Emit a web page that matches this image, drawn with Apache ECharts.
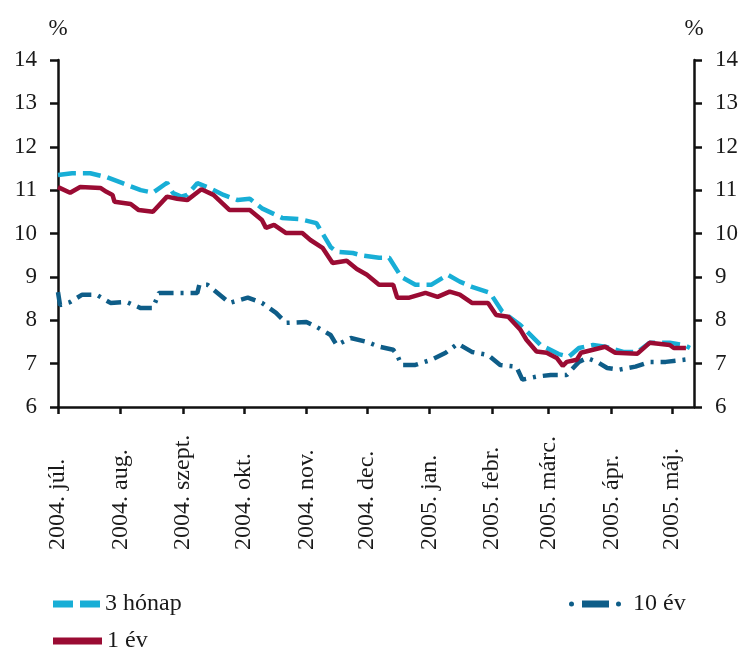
<!DOCTYPE html>
<html>
<head>
<meta charset="utf-8">
<script src="https://cdn.jsdelivr.net/npm/echarts@6/dist/echarts.min.js"></script>
<style>
html,body{margin:0;padding:0;background:#fff;}
#chart{width:742px;height:650px;}
</style>
</head>
<body>
<div id="chart"></div>
<script>
// ---- data ----
const startDate = '2004-07-01';
const endDate = '2005-05-12';
const tickLabels = ['2004. júl.', '2004. aug.', '2004. szept.', '2004. okt.', '2004. nov.', '2004. dec.',
  '2005. jan.', '2005. febr.', '2005. márc.', '2005. ápr.', '2005. máj.'];
const seriesNames = ['3 hónap', '1 év', '10 év'];

const threeMonth = [
  ['2004-07-01',11.35],['2004-07-08',11.39],['2004-07-17',11.39],['2004-07-25',11.30],['2004-08-02',11.16],
  ['2004-08-11',11.00],['2004-08-17',10.94],['2004-08-24',11.17],['2004-08-27',10.93],['2004-08-31',10.85],
  ['2004-09-03',10.89],['2004-09-08',11.16],['2004-09-14',11.05],['2004-09-21',10.89],['2004-09-28',10.77],
  ['2004-10-04',10.80],['2004-10-10',10.58],['2004-10-20',10.36],['2004-10-29',10.33],['2004-11-06',10.24],
  ['2004-11-13',9.69],['2004-11-16',9.58],['2004-11-24',9.55],['2004-11-28',9.50],['2004-12-07',9.44],
  ['2004-12-12',9.44],['2004-12-18',9.00],['2004-12-25',8.82],['2005-01-02',8.82],['2005-01-10',9.05],
  ['2005-01-16',8.89],['2005-01-22',8.77],['2005-01-31',8.63],['2005-02-06',8.20],['2005-02-15',7.89],
  ['2005-02-25',7.43],['2005-03-06',7.22],['2005-03-11',7.16],['2005-03-16',7.36],['2005-03-23',7.43],
  ['2005-03-29',7.39],['2005-04-07',7.27],['2005-04-14',7.27],['2005-04-20',7.48],['2005-04-30',7.48],
  ['2005-05-07',7.43],['2005-05-10',7.36]
];

const oneYear = [
  ['2004-07-01',11.07],['2004-07-07',10.94],['2004-07-12',11.07],['2004-07-22',11.05],['2004-07-25',10.96],
  ['2004-07-28',10.89],['2004-07-29',10.73],['2004-08-06',10.68],['2004-08-10',10.54],['2004-08-17',10.50],
  ['2004-08-24',10.85],['2004-08-29',10.80],['2004-09-03',10.77],['2004-09-10',11.02],['2004-09-16',10.89],
  ['2004-09-24',10.54],['2004-10-04',10.54],['2004-10-10',10.31],['2004-10-12',10.13],['2004-10-16',10.20],
  ['2004-10-22',10.01],['2004-10-30',10.01],['2004-11-03',9.85],['2004-11-09',9.67],['2004-11-14',9.32],
  ['2004-11-21',9.37],['2004-11-26',9.18],['2004-12-01',9.05],['2004-12-07',8.82],['2004-12-14',8.82],
  ['2004-12-16',8.52],['2004-12-22',8.52],['2004-12-30',8.63],['2005-01-05',8.54],['2005-01-11',8.66],
  ['2005-01-16',8.59],['2005-01-22',8.40],['2005-01-30',8.40],['2005-02-03',8.12],['2005-02-09',8.08],
  ['2005-02-15',7.78],['2005-02-18',7.55],['2005-02-23',7.28],['2005-02-28',7.25],['2005-03-05',7.13],
  ['2005-03-08',6.95],['2005-03-10',7.04],['2005-03-15',7.09],['2005-03-17',7.25],['2005-03-23',7.32],
  ['2005-03-29',7.39],['2005-04-03',7.25],['2005-04-14',7.23],['2005-04-20',7.48],['2005-04-30',7.43],
  ['2005-05-02',7.36],['2005-05-08',7.36]
];

const tenYear = [
  ['2004-07-01',8.65],['2004-07-02',8.35],['2004-07-07',8.42],['2004-07-13',8.59],['2004-07-20',8.59],
  ['2004-07-27',8.40],['2004-08-04',8.42],['2004-08-11',8.28],['2004-08-17',8.28],['2004-08-20',8.63],
  ['2004-08-29',8.63],['2004-09-08',8.63],['2004-09-09',8.82],['2004-09-13',8.82],['2004-09-18',8.63],
  ['2004-09-24',8.40],['2004-10-03',8.52],['2004-10-10',8.40],['2004-10-17',8.17],['2004-10-22',7.94],
  ['2004-11-01',7.96],['2004-11-06',7.85],['2004-11-13',7.66],['2004-11-16',7.43],['2004-11-23',7.59],
  ['2004-12-01',7.50],['2004-12-07',7.39],['2004-12-14',7.32],['2004-12-16',7.20],['2004-12-18',6.97],
  ['2004-12-25',6.97],['2005-01-02',7.09],['2005-01-09',7.25],['2005-01-15',7.46],['2005-01-22',7.27],
  ['2005-01-30',7.20],['2005-02-05',6.97],['2005-02-13',6.93],['2005-02-16',6.63],['2005-02-23',6.70],
  ['2005-03-02',6.74],['2005-03-10',6.74],['2005-03-16',7.04],['2005-03-20',7.13],['2005-03-25',7.04],
  ['2005-03-30',6.90],['2005-04-05',6.86],['2005-04-13',6.93],['2005-04-20',7.04],['2005-04-28',7.04],
  ['2005-05-09',7.10]
];

// daily categories
const categories = [];
(function () {
  const d = new Date(startDate + 'T00:00:00Z');
  const e = new Date(endDate + 'T00:00:00Z');
  while (d <= e) {
    categories.push(d.toISOString().slice(0, 10));
    d.setUTCDate(d.getUTCDate() + 1);
  }
})();
const monthStarts = categories.filter(c => c.slice(8) === '01');

const FONT = 'Liberation Serif';
const TXT = '#1a1a1a';
const isMonthStart = (idx, val) => String(val).slice(8) === '01';

const chart = echarts.init(document.getElementById('chart'), null, {renderer: 'canvas'});

const yAxisBase = {
  type: 'value', min: 6, max: 14, interval: 1,
  name: '%', nameLocation: 'end', nameGap: 20,
  nameTextStyle: {fontFamily: FONT, fontSize: 23, color: TXT},
  axisLine: {show: true, lineStyle: {color: '#111', width: 2.5}},
  axisTick: {show: true, length: 8, lineStyle: {color: '#111', width: 2.5}},
  axisLabel: {fontFamily: FONT, fontSize: 23, color: TXT, margin: 21},
  splitLine: {show: false}
};

const legendBase = {
  orient: 'horizontal', itemHeight: 7, selectedMode: false, padding: 0,
  textStyle: {fontFamily: FONT, fontSize: 24, color: TXT}
};

chart.setOption({
  animation: false,
  backgroundColor: '#fff',
  grid: {left: 58, right: 48, top: 60, bottom: 243, containLabel: false},
  legend: [
    Object.assign({}, legendBase, {
      left: 53, top: 592, itemWidth: 47, itemGap: 4,
      data: [{name: seriesNames[0], icon: 'path://M0,0H20V7H0ZM27,0H47V7H27Z'}]
    }),
    Object.assign({}, legendBase, {
      left: 53, top: 629, itemWidth: 49,
      data: [{name: seriesNames[1], icon: 'rect'}]
    }),
    Object.assign({}, legendBase, {
      left: 569, top: 592, itemWidth: 52,
      textStyle: {fontFamily: FONT, fontSize: 24, color: TXT, padding: [0, 0, 0, 7]},
      data: [{name: seriesNames[2], icon: 'path://M0,3.5A2.5,2.5 0 1 1 5,3.5A2.5,2.5 0 1 1 0,3.5ZM13,0H40V7H13ZM47,3.5A2.5,2.5 0 1 1 52,3.5A2.5,2.5 0 1 1 47,3.5Z'}]
    })
  ],
  xAxis: {
    type: 'category', data: categories, boundaryGap: false,
    axisLine: {show: true, lineStyle: {color: '#111', width: 2.5}},
    axisTick: {show: true, length: 7, interval: isMonthStart, lineStyle: {color: '#111', width: 2.5}},
    axisLabel: {
      interval: isMonthStart, rotate: 90, align: 'left', margin: 143,
      fontFamily: FONT, fontSize: 24, color: TXT,
      formatter: (val) => {
        const i = monthStarts.indexOf(val);
        return i >= 0 ? tickLabels[i] : '';
      }
    },
    splitLine: {show: false}
  },
  yAxis: [
    Object.assign({}, yAxisBase, {position: 'left'}),
    Object.assign({}, yAxisBase, {position: 'right'})
  ],
  series: [
    {
      name: seriesNames[0], type: 'line', data: threeMonth, showSymbol: false, symbol: 'none',
      color: '#18aed6',
      lineStyle: {color: '#18aed6', width: 4.5, type: [18, 7]}, z: 3
    },
    {
      name: seriesNames[1], type: 'line', data: oneYear, showSymbol: false, symbol: 'none',
      color: '#9a0b33',
      lineStyle: {color: '#9a0b33', width: 4.5, type: 'solid'}, z: 4
    },
    {
      name: seriesNames[2], type: 'line', data: tenYear, showSymbol: false, symbol: 'none',
      color: '#0e5d88',
      lineStyle: {color: '#0e5d88', width: 4.5, type: [15, 7, 3, 7]}, z: 2
    }
  ]
});
</script>
</body>
</html>
